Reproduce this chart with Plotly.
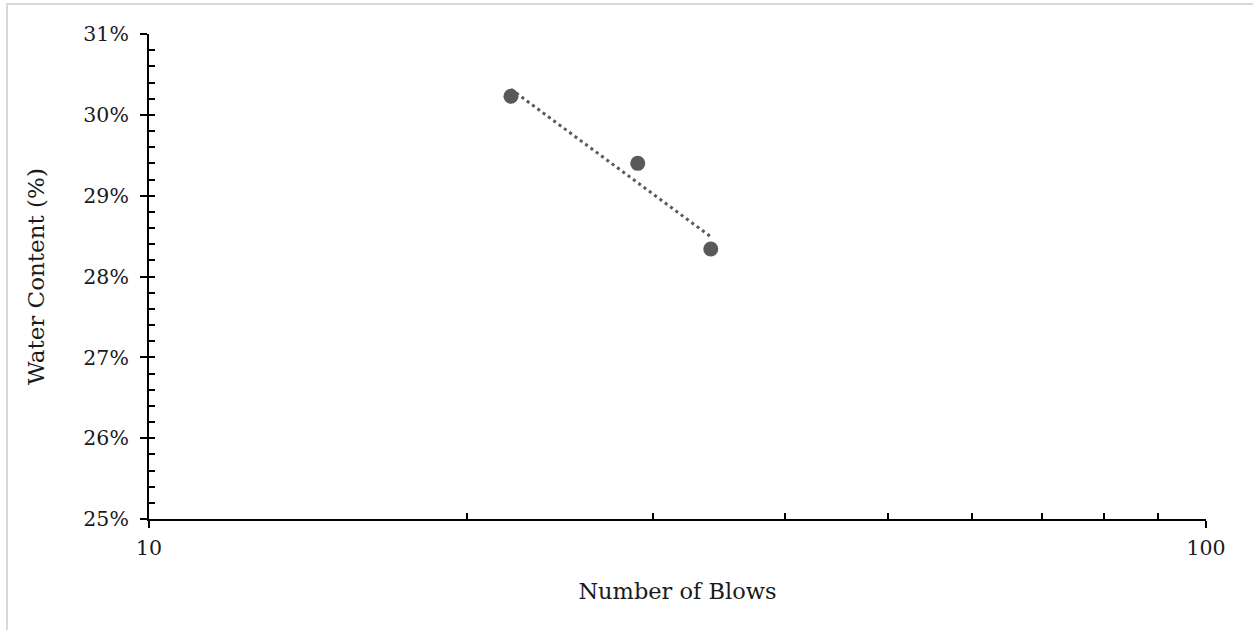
import numpy as np
import plotly.graph_objects as go

blows = [22, 29, 34]
water = [0.3023, 0.2940, 0.2834]
y_ticks = [0.25, 0.26, 0.27, 0.28, 0.29, 0.30, 0.31]
y_labels = ["25%", "26%", "27%", "28%", "29%", "30%", "31%"]
x_ticks = [10, 100]
x_minor = [10, 20, 30, 40, 50, 60, 70, 80, 90, 100]

# logarithmic trendline (least squares on ln x)
a, b = np.polyfit(np.log(blows), water, 1)
tx = np.array([min(blows), max(blows)], dtype=float)
ty = a * np.log(tx) + b

FONT = "DejaVu Serif"
TXT = "#1a1a1a"
GRAY = "#595959"

fig = go.Figure()
fig.add_trace(go.Scatter(x=tx, y=ty, mode="lines",
                         line=dict(color=GRAY, width=3, dash="3px,3.6px"),
                         hoverinfo="skip", showlegend=False))
fig.add_trace(go.Scatter(x=blows, y=water, mode="markers",
                         marker=dict(color=GRAY, size=15),
                         showlegend=False))
# invisible trace on overlay axes (minor/inside ticks)
fig.add_trace(go.Scatter(x=blows, y=water, mode="markers", xaxis="x2", yaxis="y2",
                         marker=dict(opacity=0), hoverinfo="skip", showlegend=False))

fig.update_layout(
    width=1253, height=630,
    margin=dict(l=149, r=47, t=34, b=111),
    paper_bgcolor="white", plot_bgcolor="white",
    font=dict(family=FONT, color=TXT, size=20.5),
    xaxis=dict(type="log", range=[1, 2], tickvals=x_ticks, ticktext=["10", "100"],
               ticks="outside", ticklen=7, tickwidth=2, tickcolor="black",
               showline=True, linecolor="black", linewidth=2,
               showgrid=False, zeroline=False, ticklabelstandoff=2,
               tickfont=dict(size=20.5),
               title=dict(text="Number of Blows", standoff=25, font=dict(size=22.5))),
    yaxis=dict(range=[0.25, 0.31], tickvals=y_ticks, ticktext=y_labels,
               ticks="outside", ticklen=7, tickwidth=2, tickcolor="black",
               showline=True, linecolor="black", linewidth=2,
               showgrid=False, zeroline=False, ticklabelstandoff=7,
               tickfont=dict(size=20.5),
               title=dict(text="Water Content (%)", standoff=32, font=dict(size=23))),
    xaxis2=dict(type="log", range=[1, 2], overlaying="x", anchor="y", side="bottom",
                tickvals=x_minor, ticks="inside", ticklen=6, tickwidth=2,
                tickcolor="black", showticklabels=False, showgrid=False,
                zeroline=False, showline=False),
    yaxis2=dict(range=[0.25, 0.31], overlaying="y", anchor="x", side="left",
                dtick=0.002, tick0=0.25, ticks="inside", ticklen=6, tickwidth=2,
                tickcolor="black", showticklabels=False, showgrid=False,
                zeroline=False, showline=False),
    shapes=[dict(type="rect", xref="paper", yref="paper",
                 x0=(7 - 149) / 1057, x1=1.2, y0=-0.5, y1=(519 - 4) / 485,
                 line=dict(color="#d9d9d9", width=2), fillcolor="rgba(0,0,0,0)",
                 layer="below")],
)

fig.write_html("out.html")
